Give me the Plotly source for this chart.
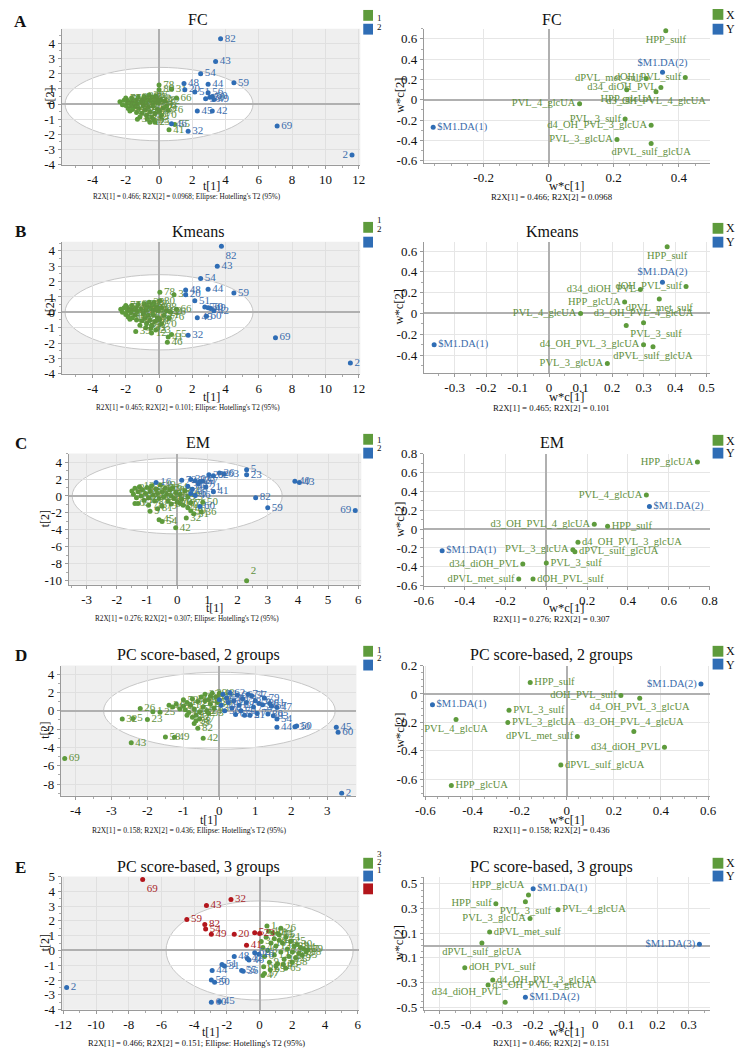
import numpy as np
import plotly.graph_objects as go

W, H = 745, 1062
FONT = "Liberation Serif"
GREEN, GREEN_T = "#5e9b3c", "#5f8f3d"
BLUE, BLUE_T = "#2f6db5", "#3a6cab"
RED, RED_T = "#b3161c", "#a8262a"

# ------------------------------------------------------------------ data
# score plots: (sample id, t[1], t[2])
A_g1 = [(78, 0.0, 1.25), (80, 0.0, 0.95), (31, 0.75, 1.0), (66, 1.05, 0.4), (39, -1.3, -1.0),
        (12, -0.55, -1.2), (41, 0.6, -1.7), (33, -0.3, -1.05), (55, 0.95, -1.35), (6, 0.45, -0.15),
        (22, 0.35, 0.2), (65, -0.2, 0.55), (1, -2.35, 0.15), (3, -2.2, -0.05), (4, -2.1, 0.25),
        (5, -2.0, -0.1), (7, -1.95, 0.3), (8, -1.9, 0.05), (9, -1.85, -0.3), (10, -1.75, 0.15),
        (11, -1.7, -0.1), (13, -1.65, 0.4), (14, -1.6, -0.35), (15, -1.5, 0.1), (16, -1.45, -0.2),
        (17, -1.4, 0.25), (18, -1.35, -0.55), (19, -1.3, 0.0), (21, -1.25, 0.45), (23, -1.2, -0.3),
        (24, -1.1, 0.15), (25, -1.05, -0.6), (26, -1.0, 0.3), (27, -0.95, -0.1), (28, -0.9, 0.5),
        (29, -0.85, -0.4), (34, -0.8, 0.1), (35, -0.75, -0.75), (36, -0.7, 0.35), (37, -0.65, -0.2),
        (38, -0.6, 0.6), (40, -0.55, -0.5), (47, -0.5, 0.2), (52, -0.45, -0.85), (53, -0.4, 0.45),
        (57, -0.35, -0.15), (58, -0.3, 0.1), (61, -0.25, -0.6), (62, -0.15, 0.3), (63, -0.1, -0.35),
        (64, -0.05, 0.05), (67, 0.05, -0.45), (68, 0.1, 0.25), (70, 0.15, -0.75), (71, 0.25, -0.25),
        (72, -1.75, -0.45), (73, -1.15, -0.85), (74, -0.7, -1.0), (75, -0.25, -1.2), (76, 0.55, -0.4),
        (77, -2.0, 0.4)]
A_g2 = [(82, 3.7, 4.3), (43, 3.4, 2.8), (54, 2.5, 2.0), (59, 4.5, 1.4), (44, 2.95, 1.3),
        (48, 1.5, 1.35), (20, 1.55, 0.95), (51, 2.15, 0.8), (56, 2.95, 0.75), (30, 2.8, 0.35),
        (50, 3.05, 0.45), (60, 3.2, 0.5), (49, 3.3, 0.3), (45, 2.3, -0.45), (42, 3.2, -0.45),
        (46, 0.75, -1.3), (32, 1.75, -1.8), (69, 7.1, -1.45), (2, 11.6, -3.35)]

B_g1 = [(78, 0.05, 1.3), (31, 0.9, 1.15), (80, 0.05, 0.75), (6, -0.3, 0.65), (66, 1.05, 0.2),
        (22, 0.45, 0.1), (26, 0.7, 0.0), (39, -1.4, -1.25), (12, -0.45, -1.35), (23, -0.2, -1.15),
        (33, -0.5, -1.05), (55, 0.75, -1.45), (41, 0.55, -1.6), (46, 0.5, -1.95),
        (1, -2.3, 0.2), (3, -2.2, 0.0), (4, -2.1, 0.3), (5, -2.0, -0.15), (7, -1.95, 0.35),
        (8, -1.9, 0.1), (9, -1.85, -0.3), (10, -1.75, 0.2), (11, -1.7, -0.05), (13, -1.65, 0.45),
        (14, -1.6, -0.35), (15, -1.5, 0.15), (16, -1.45, -0.2), (17, -1.4, 0.3), (18, -1.35, -0.5),
        (19, -1.3, 0.05), (21, -1.25, 0.5), (24, -1.1, 0.2), (25, -1.05, -0.55), (27, -0.95, -0.1),
        (28, -0.9, 0.55), (29, -0.85, -0.4), (34, -0.8, 0.15), (35, -0.75, -0.75), (36, -0.7, 0.4),
        (37, -0.65, -0.2), (38, -0.6, 0.65), (40, -0.55, -0.5), (47, -0.5, 0.25), (52, -0.45, -0.85),
        (53, -0.4, 0.5), (57, -0.35, -0.15), (58, -0.3, 0.15), (61, -0.25, -0.6), (62, -0.15, 0.35),
        (63, -0.1, -0.35), (64, -0.05, 0.1), (67, 0.05, -0.45), (68, 0.15, 0.3), (70, 0.15, -0.75),
        (71, 0.3, -0.2), (72, -1.75, -0.45), (73, -1.15, -0.85), (74, -0.8, -1.0), (76, 0.6, -0.35),
        (77, -2.0, 0.45)]
B_g2 = [(82, 3.75, 4.3), (43, 3.5, 3.0), (54, 2.5, 2.2), (44, 2.95, 1.5), (59, 4.5, 1.25),
        (48, 1.6, 1.45), (20, 1.6, 1.15), (51, 2.15, 0.75), (56, 2.75, 0.35), (50, 2.95, 0.3),
        (49, 3.1, 0.25), (42, 3.3, 0.1), (45, 2.3, -0.35), (60, 2.85, -0.25), (32, 1.75, -1.5),
        (69, 7.0, -1.65), (2, 11.5, -3.3)]

C_g1 = [(2, 2.3, -10.0), (42, -0.05, -3.75), (45, -0.6, -2.8), (54, -0.5, -3.0), (9, -0.9, -1.8),
        (81, -0.65, -1.5), (65, -1.4, -0.9), (32, 0.3, -2.6), (31, 0.55, -2.1), (36, 0.8, -1.9),
        (50, 0.85, -0.75), (48, 0.35, -1.4), (39, 0.45, -1.75), (19, 0.1, -0.9),
        (6, -1.5, 0.6), (7, -1.45, 0.2), (8, -1.4, 0.9), (10, -1.35, -0.2), (11, -1.3, 0.5),
        (12, -1.25, 1.1), (13, -1.2, 0.0), (14, -1.15, 0.7), (15, -1.1, -0.5), (17, -1.05, 0.3),
        (18, -1.0, 1.0), (22, -0.95, -0.2), (24, -0.9, 0.6), (25, -0.85, 1.2), (27, -0.8, 0.1),
        (28, -0.75, -0.6), (35, -0.7, 0.8), (37, -0.65, 0.3), (44, -0.6, -0.3), (49, -0.55, 1.3),
        (51, -0.5, 0.5), (52, -0.45, -0.1), (53, -0.4, 0.9), (55, -0.35, 0.2), (56, -0.3, -0.6),
        (58, -0.25, 0.7), (61, -0.2, 0.0), (64, -0.15, 1.0), (67, -0.1, -0.3), (68, -0.05, 0.4),
        (70, 0.0, -0.7), (71, 0.1, 0.2), (73, 0.15, -0.4), (74, 0.25, 0.6), (75, 0.35, -0.1),
        (76, 0.45, -0.8), (77, -1.3, -0.9), (78, -0.95, -1.1), (79, -0.5, -1.2), (80, 0.2, -1.1),
        (83, -0.2, -0.95)]
C_g2 = [(5, 2.3, 3.1), (23, 2.3, 2.5), (43, 4.05, 1.6), (40, 3.9, 1.75), (82, 2.6, -0.2),
        (59, 3.0, -1.4), (69, 5.9, -1.7), (63, 1.55, 2.6), (26, 1.4, 2.7), (29, 1.05, 2.5),
        (72, 0.15, 1.85), (20, 0.75, 1.7), (30, 0.45, 1.95), (33, 0.6, 1.8), (21, 0.95, 1.05),
        (41, 1.2, 0.5), (46, 0.6, 0.05), (60, 0.75, -1.25), (16, -0.7, 1.6), (34, 0.35, 1.15),
        (38, 0.5, 0.8), (47, 0.7, 1.4), (57, 0.85, 1.75), (62, 1.2, 2.4), (66, 0.45, 0.3)]

D_g1 = [(69, -4.3, -5.2), (43, -2.45, -3.5), (32, -2.7, -0.9), (5, -2.4, -0.85), (23, -2.0, -0.95),
        (26, -2.2, 0.25), (25, -1.65, -0.15), (58, -1.5, -2.85), (49, -1.25, -2.9), (42, -0.45, -3.0),
        (82, -0.6, -1.9), (39, -0.7, -1.4), (1, -1.85, -0.1), (3, -1.4, 0.6), (4, -1.3, 0.4),
        (6, -1.2, 0.7), (7, -1.1, 0.2), (8, -1.0, 0.5), (9, -0.95, 0.1), (10, -0.9, 0.9),
        (12, -0.85, -0.2), (13, -0.8, 0.6), (14, -0.75, 1.3), (15, -0.7, 0.2), (17, -0.65, -0.5),
        (18, -0.6, 1.0), (19, -0.55, -0.1), (20, -0.5, 1.5), (21, -0.45, 0.4), (22, -0.4, 1.8),
        (24, -0.35, 0.0), (27, -0.3, 1.2), (28, -0.25, 0.7), (29, -0.2, 1.9), (33, -0.15, 0.3),
        (35, -0.1, 1.5), (36, -0.05, 0.9), (37, -0.55, -0.9), (38, -0.65, -1.1), (40, -0.4, 1.1),
        (41, -0.25, 1.6), (46, -0.9, -0.5), (48, 0.0, 1.9), (52, -1.0, 1.2), (53, -0.3, -0.3),
        (55, -0.75, -0.7)]
D_g2 = [(2, 3.4, -9.0), (45, 3.25, -1.8), (60, 3.3, -2.35), (50, 2.15, -1.65), (30, 2.1, -1.75),
        (44, 1.6, -1.8), (54, 1.6, -0.9), (47, 1.6, 0.35), (67, 1.45, 0.5), (11, 1.2, 0.65),
        (57, 0.9, 1.65), (31, 0.85, -0.5), (16, 0.0, 1.2), (34, 0.05, 0.6), (51, 0.1, 1.8),
        (56, 0.15, 0.0), (59, 0.2, 1.4), (61, 0.25, 0.9), (62, 0.3, 1.9), (63, 0.35, 0.3),
        (64, 0.4, 1.1), (65, 0.45, -0.4), (66, 0.5, 1.7), (68, 0.55, 0.6), (70, 0.6, 0.0),
        (71, 0.65, 1.3), (72, 0.7, -0.5), (73, 0.75, 0.9), (74, 0.8, 1.8), (75, 0.95, 0.4),
        (76, 1.0, 1.1), (77, 1.05, -0.3), (78, 1.1, 0.8), (79, 1.25, 1.4), (80, 1.35, -0.35),
        (81, 1.4, 0.8), (83, 1.5, -0.55)]

E_g3 = [(1, 0.45, 1.65), (26, 1.3, 1.5), (75, 1.2, 1.05), (81, 1.0, -1.05), (47, 0.2, -1.7),
        (57, 0.3, -1.55), (3, 0.1, 0.6), (4, 0.2, 0.2), (6, 0.3, -0.4), (7, 0.4, 0.9), (8, 0.5, 0.0),
        (9, 0.6, -0.8), (10, 0.7, 0.5), (11, 0.8, 1.2), (12, 0.9, -0.3), (13, 1.0, 0.3),
        (14, 1.1, -0.9), (15, 1.2, 0.7), (17, 1.3, -0.1), (18, 1.4, 0.5), (19, 1.5, -0.6),
        (21, 1.6, 0.9), (22, 1.7, 0.1), (24, 1.8, -0.4), (25, 1.9, 0.6), (27, 2.0, -0.1),
        (28, 2.1, 0.3), (29, 2.2, -0.5), (30, 2.3, 0.4), (33, 2.4, -0.2), (34, 2.5, 0.2),
        (35, 2.6, -0.3), (37, 2.7, 0.1), (38, 2.85, -0.1), (39, 2.95, 0.05), (40, 0.55, 1.3),
        (52, 0.9, 0.8), (53, 1.45, -0.95), (58, 2.0, -0.8), (61, 0.25, -1.1), (63, 0.65, -1.3),
        (64, 1.1, 1.15), (65, 1.6, -1.2)]
E_g2 = [(2, -11.8, -2.5), (60, -2.95, -3.5), (45, -2.45, -3.45), (56, -2.95, -2.0), (50, -2.75, -2.15),
        (44, -2.9, -1.35), (51, -2.3, -0.95), (31, -2.15, -1.05), (48, -1.55, -0.4), (42, -0.75, -0.55),
        (46, -0.65, -0.65), (55, -1.1, -1.35), (36, -1.0, -1.4), (62, -0.3, -0.15), (16, -0.05, -0.25)]
E_g1 = [(69, -7.15, 4.8), (32, -1.75, 3.45), (43, -3.25, 3.05), (59, -4.45, 2.1), (82, -3.35, 1.75),
        (54, -3.3, 1.45), (49, -2.95, 1.1), (20, -1.55, 1.1), (5, -0.3, 1.2), (23, 0.0, 1.15),
        (41, -0.8, 0.35)]

# loading plots: (variable, w*c[1], w*c[2])
A_lx = [("HPP_sulf", 0.36, 0.68), ("dOH_PVL_sulf", 0.42, 0.22), ("dPVL_met_sulf", 0.3, 0.21),
        ("d34_diOH_PVL", 0.345, 0.12), ("HPP_glcUA", 0.24, 0.1), ("d3_OH_PVL_4_glcUA", 0.33, 0.08),
        ("PVL_4_glcUA", 0.095, -0.04), ("PVL_3_sulf", 0.235, -0.19), ("d4_OH_PVL_3_glcUA", 0.315, -0.25),
        ("PVL_3_glcUA", 0.21, -0.39), ("dPVL_sulf_glcUA", 0.315, -0.43)]
A_ly = [("$M1.DA(1)", -0.355, -0.27), ("$M1.DA(2)", 0.35, 0.27)]

B_lx = [("HPP_sulf", 0.375, 0.64), ("dOH_PVL_sulf", 0.435, 0.26), ("d34_diOH_PVL", 0.29, 0.23),
        ("dPVL_met_sulf", 0.35, 0.14), ("HPP_glcUA", 0.24, 0.11), ("PVL_4_glcUA", 0.1, 0.0),
        ("d3_OH_PVL_4_glcUA", 0.3, -0.09), ("PVL_3_sulf", 0.245, -0.115),
        ("d4_OH_PVL_3_glcUA", 0.3, -0.3), ("dPVL_sulf_glcUA", 0.33, -0.32), ("PVL_3_glcUA", 0.185, -0.48)]
B_ly = [("$M1.DA(1)", -0.365, -0.3), ("$M1.DA(2)", 0.36, 0.3)]

C_lx = [("HPP_glcUA", 0.74, 0.71), ("PVL_4_glcUA", 0.49, 0.36), ("d3_OH_PVL_4_glcUA", 0.235, 0.05),
        ("HPP_sulf", 0.3, 0.03), ("d4_OH_PVL_3_glcUA", 0.155, -0.14), ("PVL_3_glcUA", 0.13, -0.22),
        ("dPVL_sulf_glcUA", 0.14, -0.24), ("PVL_3_sulf", 0.0, -0.36), ("d34_diOH_PVL", -0.115, -0.37),
        ("dPVL_met_sulf", -0.135, -0.53), ("dOH_PVL_sulf", -0.065, -0.53)]
C_ly = [("$M1.DA(1)", -0.51, -0.23), ("$M1.DA(2)", 0.505, 0.24)]

D_lx = [("HPP_sulf", -0.155, 0.08), ("dOH_PVL_sulf", 0.23, -0.01), ("d4_OH_PVL_3_glcUA", 0.31, -0.03),
        ("PVL_3_sulf", -0.245, -0.115), ("PVL_4_glcUA", -0.47, -0.18), ("PVL_3_glcUA", -0.25, -0.2),
        ("d3_OH_PVL_4_glcUA", 0.285, -0.265), ("dPVL_met_sulf", 0.045, -0.3),
        ("d34_diOH_PVL", 0.415, -0.375), ("dPVL_sulf_glcUA", -0.025, -0.5), ("HPP_glcUA", -0.49, -0.645)]
D_ly = [("$M1.DA(1)", -0.57, -0.075), ("$M1.DA(2)", 0.57, 0.07)]

E_lx = [("HPP_glcUA", -0.215, 0.41), ("HPP_sulf", -0.32, 0.34), ("PVL_3_sulf", -0.225, 0.355),
        ("PVL_4_glcUA", -0.12, 0.29), ("PVL_3_glcUA", -0.21, 0.22), ("dPVL_met_sulf", -0.34, 0.11),
        ("dPVL_sulf_glcUA", -0.365, 0.02), ("dOH_PVL_sulf", -0.42, -0.18),
        ("d4_OH_PVL_3_glcUA", -0.33, -0.28), ("d3_OH_PVL_4_glcUA", -0.345, -0.32),
        ("d34_diOH_PVL", -0.29, -0.46)]
E_ly = [("$M1.DA(1)", -0.2, 0.46), ("$M1.DA(3)", 0.335, 0.01), ("$M1.DA(2)", -0.225, -0.42)]

TITLES = ["FC", "Kmeans", "EM", "PC score-based, 2 groups", "PC score-based, 3 groups"]
LETTERS = ["A", "B", "C", "D", "E"]
R2X = [("0.466", "0.0968"), ("0.465", "0.101"), ("0.276", "0.307"), ("0.158", "0.436"), ("0.466", "0.151")]
SCORE_GROUPS = [["1", "2"], ["1", "2"], ["1", "2"], ["1", "2"], ["3", "2", "1"]]

# ------------------------------------------------------------------ styles / layout
SCORE_POS = {0: {2: "middle left"}, 1: {82: "bottom right"}, 2: {69: "middle left", 2: "top right"},
             3: {}, 4: {69: "bottom right"}}
LOAD_POS = {
    0: {"HPP_sulf": "bottom center", "HPP_glcUA": "bottom center", "d3_OH_PVL_4_glcUA": "bottom center",
        "dPVL_sulf_glcUA": "bottom center", "$M1.DA(2)": "top center", "$M1.DA(1)": "middle right"},
    1: {"HPP_sulf": "bottom center", "$M1.DA(2)": "top center", "dPVL_met_sulf": "bottom center",
        "d3_OH_PVL_4_glcUA": "top center", "PVL_3_sulf": "bottom right", "dPVL_sulf_glcUA": "bottom center",
        "$M1.DA(1)": "middle right"},
    2: {"$M1.DA(2)": "middle right", "HPP_sulf": "middle right", "d4_OH_PVL_3_glcUA": "middle right",
        "dPVL_sulf_glcUA": "middle right", "PVL_3_sulf": "middle right", "dOH_PVL_sulf": "middle right",
        "$M1.DA(1)": "middle right"},
    3: {"HPP_sulf": "middle right", "$M1.DA(1)": "middle right", "PVL_3_sulf": "middle right",
        "PVL_4_glcUA": "bottom center", "PVL_3_glcUA": "middle right", "d4_OH_PVL_3_glcUA": "bottom center",
        "d3_OH_PVL_4_glcUA": "top center", "dPVL_sulf_glcUA": "middle right", "HPP_glcUA": "middle right"},
    4: {"$M1.DA(1)": "middle right", "HPP_glcUA": "top left", "PVL_3_sulf": "bottom center",
        "PVL_4_glcUA": "middle right", "dPVL_met_sulf": "middle right", "dPVL_sulf_glcUA": "bottom center",
        "dOH_PVL_sulf": "middle right", "d4_OH_PVL_3_glcUA": "middle right",
        "d3_OH_PVL_4_glcUA": "middle right", "$M1.DA(2)": "middle right", "d34_diOH_PVL": "top left"},
}

SUBS = [
    dict(box=(53, 359, 22, 160), xr=[-5.85, 12.1], yr=[-4, 4.97], xt=(-4, 12, 2), yt=(-4, 4, 1), ell=(5.65, 2.42)),
    dict(box=(424, 717, 22, 158), xr=[-0.384, 0.495], yr=[-0.62, 0.70], xt=(-0.2, 0.4, 0.2), yt=(-0.6, 0.6, 0.2)),
    dict(box=(53, 359, 238, 372), xr=[-5.85, 12.1], yr=[-4, 4.6], xt=(-4, 12, 2), yt=(-4, 4, 1), ell=(5.65, 2.45)),
    dict(box=(424, 717, 238, 371), xr=[-0.398, 0.51], yr=[-0.57, 0.69], xt=(-0.3, 0.5, 0.1), yt=(-0.4, 0.6, 0.2)),
    dict(box=(60, 360, 453, 586), xr=[-3.6, 6.1], yr=[-10.47, 5.0], xt=(-3, 6, 1), yt=(-10, 4, 2), ell=(3.48, 4.47)),
    dict(box=(424, 717, 453, 587), xr=[-0.6, 0.8], yr=[-0.6, 0.8], xt=(-0.6, 0.8, 0.2), yt=(-0.6, 0.8, 0.2)),
    dict(box=(52, 355, 668, 800), xr=[-4.41, 3.81], yr=[-9.26, 4.93], xt=(-4, 3, 1), yt=(-8, 4, 2), ell=(3.22, 4.2)),
    dict(box=(424, 717, 668, 800), xr=[-0.607, 0.607], yr=[-0.716, 0.2], xt=(-0.6, 0.6, 0.2), yt=(-0.6, 0.2, 0.2)),
    dict(box=(53, 358, 882, 1017), xr=[-12.1, 6.1], yr=[-4, 5], xt=(-12, 6, 2), yt=(-4, 5, 1), ell=(5.72, 3.35)),
    dict(box=(424, 717, 882, 1017), xr=[-0.552, 0.368], yr=[-0.52, 0.56], xt=(-0.5, 0.3, 0.1), yt=(-0.5, 0.5, 0.2),
         xzero=False),
]
ROWS = [
    dict(title_y=13, letter_y=15, xt_y=182, cap_y=193, legL=(3, 17), legR=(2, 17), labL=(11, 20), labR=(8, 22), capL=7.2, capLx=181),
    dict(title_y=228, letter_y=228, xt_y=396, cap_y=407, legL=(218, 233), legR=(219, 233), labL=(216, 225), labR=(224, 238), capL=7.2, capLx=182),
    dict(title_y=442, letter_y=443, xt_y=610, cap_y=621, legL=(433, 447), legR=(434, 447), labL=(439, 447), labR=(440, 452), capL=7.2, capLx=181),
    dict(title_y=657, letter_y=658, xt_y=825, cap_y=835, legL=(648, 662), legR=(648, 661), labL=(652, 660), labR=(653, 667), capL=7.6, capLx=183),
    dict(title_y=872, letter_y=873, xt_y=1040, cap_y=1051, legL=(863, 876, 889), legR=(863, 876), labL=(859, 867, 875), labR=(868, 881), capL=8.5, capLx=191),
]

SCORES = [[(A_g1, GREEN, GREEN_T), (A_g2, BLUE, BLUE_T)],
          [(B_g1, GREEN, GREEN_T), (B_g2, BLUE, BLUE_T)],
          [(C_g1, GREEN, GREEN_T), (C_g2, BLUE, BLUE_T)],
          [(D_g1, GREEN, GREEN_T), (D_g2, BLUE, BLUE_T)],
          [(E_g3, GREEN, GREEN_T), (E_g2, BLUE, BLUE_T), (E_g1, RED, RED_T)]]
LOADS = [(A_lx, A_ly), (B_lx, B_ly), (C_lx, C_ly), (D_lx, D_ly), (E_lx, E_ly)]


def ticks(a, b, s):
    vals = [round(v, 6) + 0.0 for v in np.arange(a, b + s / 2, s)]
    return vals, [f"{v:g}" for v in vals]


fig = go.Figure()
layout = dict(width=W, height=H, autosize=False, margin=dict(l=0, r=0, t=0, b=0),
              paper_bgcolor="white", plot_bgcolor="white", showlegend=False,
              font=dict(family=FONT, color="#222"))
shapes, annos = [], []


def ax_name(i):
    return "" if i == 1 else str(i)


def ann(text, x, y, size, color="#111", xanchor="center", angle=0, bold=False):
    annos.append(dict(text=f"<b>{text}</b>" if bold else text, x=x / W, y=1 - y / H, xref="paper",
                      yref="paper", showarrow=False, xanchor=xanchor, yanchor="middle", textangle=angle,
                      font=dict(family=FONT, size=size, color=color)))


for k, sp in enumerate(SUBS):
    i = k + 1
    n = ax_name(i)
    x0, x1, yt0, yb0 = sp["box"]
    score = (k % 2 == 0)
    xv, xtxt = ticks(*sp["xt"])
    yv, ytxt = ticks(*sp["yt"])
    common = dict(showgrid=True, gridcolor="#e0e0e0" if score else "#e6e6e6", gridwidth=1,
                  zeroline=True, zerolinecolor="#b0b0b0", zerolinewidth=1.6,
                  showline=True, linecolor="#9a9a9a", linewidth=1,
                  ticks="outside", ticklen=3, tickcolor="#9a9a9a",
                  minor=dict(ticks="outside", ticklen=2, tickcolor="#aaaaaa", showgrid=False),
                  tickfont=dict(family=FONT, size=13, color="#111"))
    layout["xaxis" + n] = dict(common, domain=[x0 / W, x1 / W], range=sp["xr"], anchor="y" + n,
                               tickvals=xv, ticktext=xtxt, zeroline=sp.get("xzero", True))
    layout["yaxis" + n] = dict(common, domain=[1 - yb0 / H, 1 - yt0 / H], range=sp["yr"], anchor="x" + n,
                               tickvals=yv, ticktext=ytxt)
    if score:
        shapes.append(dict(type="rect", xref=f"x{n} domain", yref=f"y{n} domain", x0=0, x1=1, y0=0, y1=1,
                           fillcolor="#efefef", line=dict(width=0), layer="below"))
        a, b = sp["ell"]
        shapes.append(dict(type="circle", xref="x" + n, yref="y" + n, x0=-a, x1=a, y0=-b, y1=b,
                           fillcolor="white", line=dict(color="#c6c6c6", width=1), layer="below"))

for r, groups in enumerate(SCORES):
    n = ax_name(2 * r + 1)
    for pts, col, tcol in groups:
        fig.add_trace(go.Scatter(
            x=[p[1] for p in pts], y=[p[2] for p in pts], text=[str(p[0]) for p in pts],
            mode="markers+text", textposition=[SCORE_POS[r].get(p[0], "middle right") for p in pts],
            marker=dict(size=5, color=col), textfont=dict(family=FONT, size=11, color=tcol),
            xaxis="x" + n, yaxis="y" + n, hoverinfo="skip"))

for r, (lx, ly) in enumerate(LOADS):
    n = ax_name(2 * r + 2)
    for pts, col, tcol in ((lx, GREEN, GREEN_T), (ly, BLUE, BLUE_T)):
        fig.add_trace(go.Scatter(
            x=[p[1] for p in pts], y=[p[2] for p in pts], text=[p[0] for p in pts],
            mode="markers+text", textposition=[LOAD_POS[r].get(p[0], "middle left") for p in pts],
            marker=dict(size=5, color=col), textfont=dict(family=FONT, size=10.5, color=tcol),
            xaxis="x" + n, yaxis="y" + n, hoverinfo="skip", cliponaxis=False))

for r, row in enumerate(ROWS):
    L, R = SUBS[2 * r], SUBS[2 * r + 1]
    ann(LETTERS[r], 11, row["letter_y"], 17, bold=True)
    ann(TITLES[r], 193, row["title_y"], 16)
    ann(TITLES[r], 555, row["title_y"], 16)
    ann("t[1]", (L["box"][0] + L["box"][1]) / 2, row["xt_y"], 12)
    ann("w*c[1]", (R["box"][0] + R["box"][1]) / 2, row["xt_y"], 12.5)
    ann("t[2]", 41 if r < 2 else 36, (L["box"][2] + L["box"][3]) / 2, 12, angle=-90)
    ann("w*c[2]", 399, (R["box"][2] + R["box"][3]) / 2, 12.5, angle=-90)
    r1, r2 = R2X[r]
    ann(f"R2X[1] = {r1}; R2X[2] = {r2}; Ellipse: Hotelling's T2 (95%)", row["capLx"], row["cap_y"], row["capL"])
    ann(f"R2X[1] = {r1}; R2X[2] = {r2}", 555, row["cap_y"], 8.8)
    cols = [g[1] for g in SCORES[r]]
    for j, top in enumerate(row["legL"]):
        shapes.append(dict(type="rect", xref="paper", yref="paper", x0=362 / W, x1=372 / W,
                           y0=1 - (top + 11) / H, y1=1 - top / H, fillcolor=cols[j], line=dict(width=0)))
    for j, y in enumerate(row["labL"]):
        ann(SCORE_GROUPS[r][j], 374, y, 9, xanchor="left")
    for j, top in enumerate(row["legR"]):
        shapes.append(dict(type="rect", xref="paper", yref="paper", x0=720 / W, x1=731 / W,
                           y0=1 - (top + 11) / H, y1=1 - top / H, fillcolor=[GREEN, BLUE][j], line=dict(width=0)))
    for j, y in enumerate(row["labR"]):
        ann(["X", "Y"][j], 732, y, 12, xanchor="left")

layout["shapes"] = shapes
layout["annotations"] = annos
fig.update_layout(**layout)
fig.write_html("out.html", config={"displayModeBar": False},
               post_script="document.body.style.margin='0px';")
